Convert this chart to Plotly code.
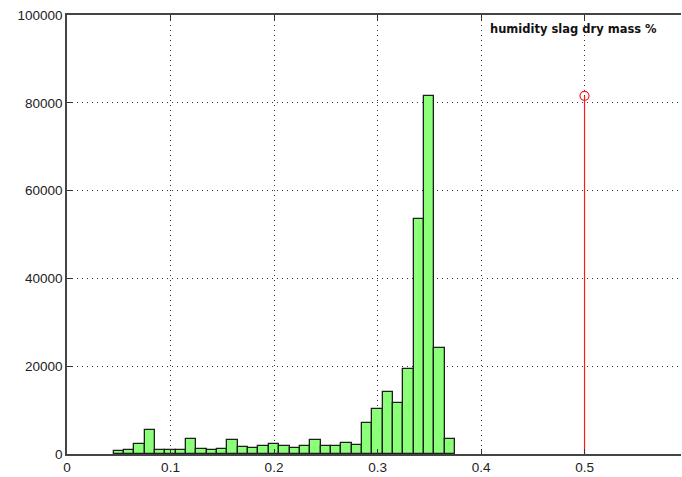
import plotly.graph_objects as go

# ---- data ----
bin_centers = [0.05, 0.06, 0.07, 0.08, 0.09, 0.10, 0.11, 0.12, 0.13, 0.14, 0.15,
               0.16, 0.17, 0.18, 0.19, 0.20, 0.21, 0.22, 0.23, 0.24, 0.25, 0.26,
               0.27, 0.28, 0.29, 0.30, 0.31, 0.32, 0.33, 0.34, 0.35, 0.36, 0.37]
counts = [600, 950, 2300, 5400, 900, 900, 900, 3450, 1200, 850, 1200,
          3150, 1700, 1400, 1870, 2300, 1780, 1400, 1800, 3150, 1780, 1780,
          2400, 2100, 7050, 10350, 14200, 11700, 19400, 53500, 81600, 24050, 3480]
bin_width = 0.01
stem_x = [0.5]
stem_y = [81600]
legend_label = "humidity slag dry mass %"
x_ticks = [0, 0.1, 0.2, 0.3, 0.4, 0.5]
y_ticks = [0, 20000, 40000, 60000, 80000, 100000]

fig = go.Figure()
fig.add_trace(go.Bar(
    x=bin_centers, y=counts, width=[bin_width] * len(bin_centers),
    marker=dict(color="#8cff78", line=dict(color="#1e1e1e", width=1.3)),
    showlegend=False,
))
fig.add_trace(go.Scatter(
    x=[stem_x[0], stem_x[0]], y=[0, stem_y[0]], mode="lines",
    line=dict(color="#ff1a1a", width=1.2), showlegend=False,
))
fig.add_trace(go.Scatter(
    x=stem_x, y=stem_y, mode="markers",
    marker=dict(symbol="circle-open", size=9, color="#ff1a1a", line=dict(width=1.2)),
    showlegend=False,
))

grid_dash = "1px,4px"
axis_font = dict(family="Liberation Sans, Arial, sans-serif", size=13.5, color="#222")

fig.update_layout(
    width=682, height=477,
    margin=dict(l=67, r=1, t=15, b=23),
    paper_bgcolor="white", plot_bgcolor="white",
    bargap=0,
    xaxis=dict(
        range=[0, 0.5932], tickvals=x_ticks, ticktext=[f"{v:g}" for v in x_ticks],
        showgrid=True, gridcolor="#333", gridwidth=1, griddash=grid_dash,
        zeroline=False, showline=True, linecolor="#444", linewidth=1.5,
        mirror="ticks", ticks="inside", ticklen=5, tickcolor="#333",
        tickfont=axis_font,
    ),
    yaxis=dict(
        range=[0, 100000], tickvals=y_ticks, ticktext=[str(v) for v in y_ticks],
        showgrid=True, gridcolor="#333", gridwidth=1, griddash=grid_dash,
        zeroline=False, showline=True, linecolor="#444", linewidth=1.5,
        mirror=False, ticks="inside", ticklen=5, tickcolor="#333",
        tickfont=axis_font,
    ),
    yaxis2=dict(
        range=[0, 100000], tickvals=y_ticks, overlaying="y", side="right",
        anchor="x", showgrid=False, zeroline=False, showline=False,
        ticks="inside", ticklen=5, tickcolor="#333", showticklabels=False,
    ),
    annotations=[dict(
        text=legend_label, xref="paper", yref="paper", x=0.685, y=0.969,
        xanchor="left", yanchor="middle", showarrow=False,
        font=dict(family="DejaVu Sans, sans-serif", size=11.5, color="#111", weight="bold"),
    )],
)

fig.write_html("out.html")
